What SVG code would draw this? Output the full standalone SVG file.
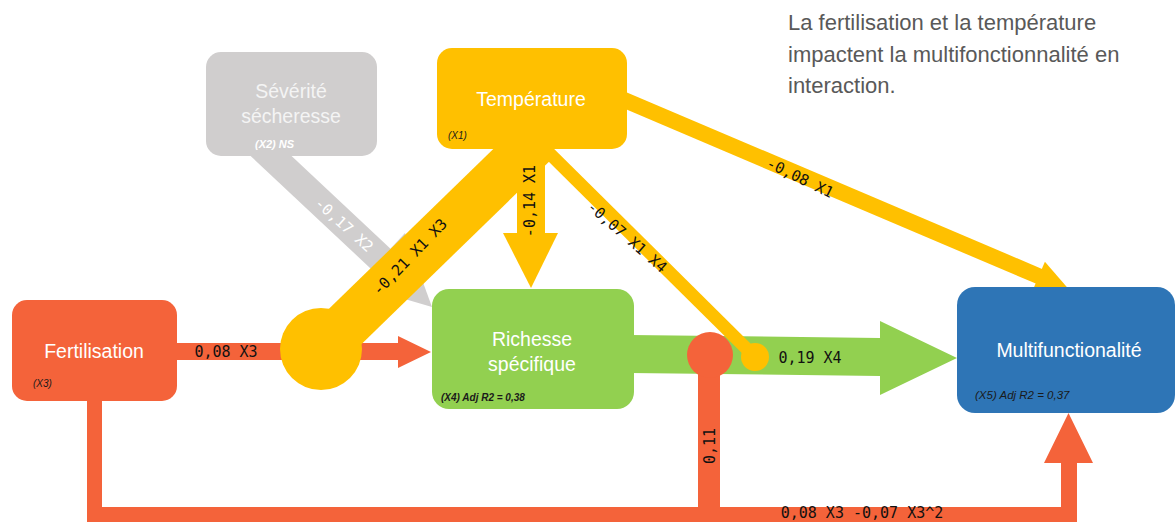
<svg xmlns="http://www.w3.org/2000/svg" width="1176" height="523" viewBox="0 0 1176 523">
<style>
.yel{fill:#ffc000}
.ylS{stroke:#ffc000;fill:none}
.org{fill:#f4633a}
.grn{fill:#92d050}
.gry{fill:#d0cece}
.gyS{stroke:#d0cece;fill:none}
.blu{fill:#2e75b6}
.lbl{font-family:"DejaVu Sans Mono","Liberation Mono",monospace;font-size:15px;fill:#111;text-anchor:middle}
.nt{font-family:"Liberation Sans",Arial,sans-serif;font-size:19.5px;fill:#fff;text-anchor:middle}
.sm{font-family:"Liberation Sans",Arial,sans-serif;font-style:italic;font-size:10px;fill:#1a1a1a}
.note{font-family:"Liberation Sans",Arial,sans-serif;font-size:22px;fill:#595959}
</style>
<rect width="1176" height="523" fill="#fff"/>
<g id="connectors">
  <g id="c-x2">
    <line class="gyS" x1="254" y1="140" x2="382" y2="260" stroke-width="28"/>
    <polygon class="gry" points="357,285 405,233 432,307"/>
    <text class="lbl" transform="translate(344,225) rotate(42)" y="5" style="fill:#fff">-0,17 X2</text>
  </g>
  <g id="c-x3">
    <rect class="org" x="170" y="343" width="230" height="17"/>
    <polygon class="org" points="398,336 431,352 398,368"/>
    <text class="lbl" x="226" y="357">0,08 X3</text>
  </g>
  <g id="c-x1x3">
    <line class="ylS" x1="540" y1="137" x2="321" y2="350" stroke-width="48"/>
    <circle class="yel" cx="321" cy="349" r="41"/>
    <text class="lbl" transform="translate(410,257) rotate(-46)" y="5">-0,21 X1 X3</text>
  </g>
  <g id="c-x1-x4">
    <rect class="yel" x="517" y="140" width="28" height="94"/>
    <polygon class="yel" points="503,233 558,233 531,288"/>
    <text class="lbl" transform="translate(530,201) rotate(-90)" y="5">-0,14 X1</text>
  </g>
  <g id="c-x4-x5">
    <polygon class="grn" points="630,335 880,338 880,321 957,358 880,395 880,376 630,373"/>
    <text class="lbl" x="810" y="363">0,19 X4</text>
  </g>
  <g id="c-x3-x5">
    <polygon class="org" points="87,398 102,398 102,507 1061,507 1061,463 1044,463 1068.5,413 1093,463 1077,463 1077,522 87,522"/>
    <text class="lbl" x="862" y="518">0,08 X3 -0,07 X3^2</text>
  </g>
  <g id="c-x3x4">
    <rect class="org" x="698" y="355" width="22" height="155"/>
    <circle class="org" cx="710" cy="355" r="23"/>
    <text class="lbl" transform="translate(710,446) rotate(-90)" y="5">0,11</text>
  </g>
  <g id="c-x1x4">
    <line class="ylS" x1="540" y1="144" x2="755" y2="357" stroke-width="13"/>
    <circle class="yel" cx="755" cy="357" r="14"/>
    <text class="lbl" transform="translate(627,237) rotate(41)" y="5">-0,07 X1 X4</text>
  </g>
  <g id="c-x1-x5">
    <line class="ylS" x1="615" y1="96" x2="1039.5" y2="276.5" stroke-width="16"/>
    <polygon class="yel" points="1044.9,261.8 1069,289.5 1032.3,291.2"/>
    <text class="lbl" transform="translate(800,178) rotate(26)" y="5">-0,08 X1</text>
  </g>
</g>
<g id="node-secheresse">
  <rect class="gry" x="206" y="52" width="171" height="104" rx="15"/>
  <text class="nt" x="291" y="98" style="fill:#f4f4f4">Sévérité</text>
  <text class="nt" x="291" y="123" style="fill:#f4f4f4">sécheresse</text>
  <text class="sm" x="255" y="148" style="fill:#fff;font-weight:bold;font-size:11px">(X2) NS</text>
</g>
<g id="node-temperature">
  <rect class="yel" x="437" y="48" width="190" height="101" rx="15"/>
  <text class="nt" x="531" y="106">Température</text>
  <text class="sm" x="448" y="139">(X1)</text>
</g>
<g id="node-fertilisation">
  <rect class="org" x="12" y="300" width="165" height="101" rx="15"/>
  <text class="nt" x="94" y="358">Fertilisation</text>
  <text class="sm" x="33" y="387">(X3)</text>
</g>
<g id="node-richesse">
  <rect class="grn" x="432" y="289" width="202" height="120" rx="17"/>
  <text class="nt" x="532" y="346">Richesse</text>
  <text class="nt" x="532" y="371">spécifique</text>
  <text class="sm" x="441" y="401" style="font-weight:bold">(X4) Adj R2 = 0,38</text>
</g>
<g id="node-multifunctionalite">
  <rect class="blu" x="957" y="287" width="218" height="126" rx="18"/>
  <text class="nt" x="1069" y="357">Multifunctionalité</text>
  <text class="sm" x="975" y="399" style="font-size:11.5px">(X5) Adj R2 = 0,37</text>
</g>
<g id="note">
  <text class="note" x="788" y="30">La fertilisation et la température</text>
  <text class="note" x="788" y="62">impactent la multifonctionnalité en</text>
  <text class="note" x="788" y="93">interaction.</text>
</g>
</svg>
